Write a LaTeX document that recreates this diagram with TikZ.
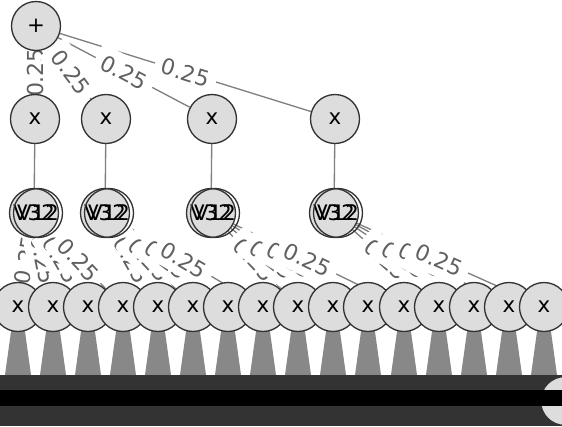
\documentclass[tikz,border=0pt]{standalone}
\usepackage{fontspec}
\setmainfont{DejaVu Sans}

\definecolor{nodefill}{HTML}{DDDDDD}
\definecolor{nodeedge}{HTML}{333333}
\definecolor{wiregray}{HTML}{808080}
\definecolor{weightgray}{HTML}{606060}
\definecolor{stemgray}{HTML}{888888}
\definecolor{bargray}{HTML}{333333}

\pgfdeclarelayer{edges}
\pgfdeclarelayer{labels}
\pgfsetlayers{edges,labels,main}

\tikzset{
    vtx/.style={circle, draw=nodeedge, fill=nodefill, line width=1pt,
        minimum size=36.75pt, inner sep=0pt, font=\fontsize{16}{18}\selectfont},
    wire/.style={draw=wiregray, line width=1pt},
    wt/.style={midway, fill=white, text=weightgray, inner xsep=5.5pt, inner ysep=6pt,
        font=\fontsize{16.5}{18}\selectfont},
    stem/.style={fill=stemgray}
}

\begin{document}
\begin{tikzpicture}[x=0.75pt, y=-0.75pt]

        \useasboundingbox (0, 0) rectangle (562, 426);

        % sum and product nodes
        \node[vtx] (plus) at (36, 26) { + };

        \node[vtx] (x1) at (35, 119) { x };
        \node[vtx] (x2) at (106, 119) { x };
        \node[vtx] (x3) at (212, 119) { x };
        \node[vtx] (x4) at (335, 119) { x };

        % stacked leaf nodes
        \node[vtx] (v1) at (34, 213) { V32 };
        \node[vtx, fill=none] (v1b) at (38, 213) { V12 };
        \node[vtx] (v2) at (105, 213) { V32 };
        \node[vtx, fill=none] (v2b) at (109, 213) { V12 };
        \node[vtx] (v3) at (211, 213) { V32 };
        \node[vtx, fill=none] (v3b) at (215, 213) { V12 };
        \node[vtx] (v4) at (334, 213) { V32 };
        \node[vtx, fill=none] (v4b) at (338, 213) { V12 };

        % bottom row
        \node[vtx] (b1) at (18, 307) { x };
        \node[vtx] (b2) at (53, 307) { x };
        \node[vtx] (b3) at (88, 307) { x };
        \node[vtx] (b4) at (123, 307) { x };
        \node[vtx] (b5) at (158, 307) { x };
        \node[vtx] (b6) at (193, 307) { x };
        \node[vtx] (b7) at (228, 307) { x };
        \node[vtx] (b8) at (263, 307) { x };
        \node[vtx] (b9) at (298, 307) { x };
        \node[vtx] (b10) at (333, 307) { x };
        \node[vtx] (b11) at (368, 307) { x };
        \node[vtx] (b12) at (404, 307) { x };
        \node[vtx] (b13) at (439, 307) { x };
        \node[vtx] (b14) at (474, 307) { x };
        \node[vtx] (b15) at (509, 307) { x };
        \node[vtx] (b16) at (544, 307) { x };

        \begin{pgfonlayer}{edges}
            \draw[wire] (plus) -- (x1);
            \draw[wire] (plus) -- (x2);
            \draw[wire] (plus) -- (x3);
            \draw[wire] (plus) -- (x4);

            \draw[wire] (x1) -- (v1);
            \draw[wire] (x2) -- (v2);
            \draw[wire] (x3) -- (v3);
            \draw[wire] (x4) -- (v4);

            \draw[wire] (v1) -- (b1);
            \draw[wire] (v1) -- (b2);
            \draw[wire] (v1) -- (b3);
            \draw[wire] (v1) -- (b4);
            \draw[wire] (v2) -- (b5);
            \draw[wire] (v2) -- (b6);
            \draw[wire] (v2) -- (b7);
            \draw[wire] (v2) -- (b8);
            \draw[wire] (v3) -- (b9);
            \draw[wire] (v3) -- (b10);
            \draw[wire] (v3) -- (b11);
            \draw[wire] (v3) -- (b12);
            \draw[wire] (v4) -- (b13);
            \draw[wire] (v4) -- (b14);
            \draw[wire] (v4) -- (b15);
            \draw[wire] (v4) -- (b16);

            \fill[stem] (b1.center) ++(-3.6, 0) -- ++(7.2, 0) -- ++(9.4, 68) -- ++(-26, 0) -- cycle;
            \fill[stem] (b2.center) ++(-3.6, 0) -- ++(7.2, 0) -- ++(9.4, 68) -- ++(-26, 0) -- cycle;
            \fill[stem] (b3.center) ++(-3.6, 0) -- ++(7.2, 0) -- ++(9.4, 68) -- ++(-26, 0) -- cycle;
            \fill[stem] (b4.center) ++(-3.6, 0) -- ++(7.2, 0) -- ++(9.4, 68) -- ++(-26, 0) -- cycle;
            \fill[stem] (b5.center) ++(-3.6, 0) -- ++(7.2, 0) -- ++(9.4, 68) -- ++(-26, 0) -- cycle;
            \fill[stem] (b6.center) ++(-3.6, 0) -- ++(7.2, 0) -- ++(9.4, 68) -- ++(-26, 0) -- cycle;
            \fill[stem] (b7.center) ++(-3.6, 0) -- ++(7.2, 0) -- ++(9.4, 68) -- ++(-26, 0) -- cycle;
            \fill[stem] (b8.center) ++(-3.6, 0) -- ++(7.2, 0) -- ++(9.4, 68) -- ++(-26, 0) -- cycle;
            \fill[stem] (b9.center) ++(-3.6, 0) -- ++(7.2, 0) -- ++(9.4, 68) -- ++(-26, 0) -- cycle;
            \fill[stem] (b10.center) ++(-3.6, 0) -- ++(7.2, 0) -- ++(9.4, 68) -- ++(-26, 0) -- cycle;
            \fill[stem] (b11.center) ++(-3.6, 0) -- ++(7.2, 0) -- ++(9.4, 68) -- ++(-26, 0) -- cycle;
            \fill[stem] (b12.center) ++(-3.6, 0) -- ++(7.2, 0) -- ++(9.4, 68) -- ++(-26, 0) -- cycle;
            \fill[stem] (b13.center) ++(-3.6, 0) -- ++(7.2, 0) -- ++(9.4, 68) -- ++(-26, 0) -- cycle;
            \fill[stem] (b14.center) ++(-3.6, 0) -- ++(7.2, 0) -- ++(9.4, 68) -- ++(-26, 0) -- cycle;
            \fill[stem] (b15.center) ++(-3.6, 0) -- ++(7.2, 0) -- ++(9.4, 68) -- ++(-26, 0) -- cycle;
            \fill[stem] (b16.center) ++(-3.6, 0) -- ++(7.2, 0) -- ++(9.4, 68) -- ++(-26, 0) -- cycle;
        \end{pgfonlayer}

        % weights
        \begin{pgfonlayer}{labels}
            \path (plus) -- node[wt, rotate=90] { 0.25 } (x1);
            \path (plus) -- node[wt, sloped] { 0.25 } (x2);
            \path (plus) -- node[wt, sloped] { 0.25 } (x3);
            \path (plus) -- node[wt, sloped] { 0.25 } (x4);

            \path (v1) -- node[wt, sloped] { 0.25 } (b1);
            \path (v1) -- node[wt, sloped] { 0.25 } (b2);
            \path (v1) -- node[wt, sloped] { 0.25 } (b3);
            \path (v1) -- node[wt, sloped] { 0.25 } (b4);
            \path (v2) -- node[wt, sloped] { 0.25 } (b5);
            \path (v2) -- node[wt, sloped] { 0.25 } (b6);
            \path (v2) -- node[wt, sloped] { 0.25 } (b7);
            \path (v2) -- node[wt, sloped] { 0.25 } (b8);
            \path (v3) -- node[wt, sloped] { 0.25 } (b9);
            \path (v3) -- node[wt, sloped] { 0.25 } (b10);
            \path (v3) -- node[wt, sloped] { 0.25 } (b11);
            \path (v3) -- node[wt, sloped] { 0.25 } (b12);
            \path (v4) -- node[wt, sloped] { 0.25 } (b13);
            \path (v4) -- node[wt, sloped] { 0.25 } (b14);
            \path (v4) -- node[wt, sloped] { 0.25 } (b15);
            \path (v4) -- node[wt, sloped] { 0.25 } (b16);
        \end{pgfonlayer}

        % base bar
        \fill[bargray] (0, 375) rectangle (562, 426);
        \node[vtx, draw=bargray] (tail) at (565, 401) { };
        \fill[black] (0, 390) rectangle (562, 406);

\end{tikzpicture}
\end{document}
